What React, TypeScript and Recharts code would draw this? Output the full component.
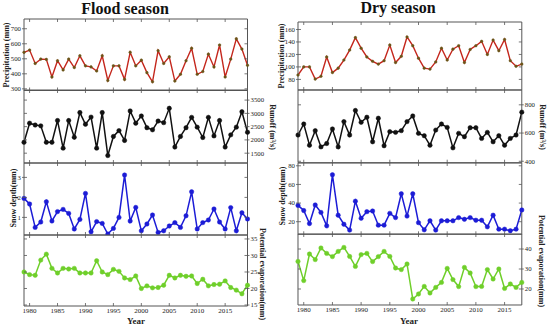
import { LineChart, Line, XAxis, YAxis } from "recharts";

const floodYears = [
  1979, 1980, 1981, 1982, 1983, 1984, 1985, 1986, 1987, 1988, 1989, 1990, 1991, 1992,
  1993, 1994, 1995, 1996, 1997, 1998, 1999, 2000, 2001, 2002, 2003, 2004, 2005, 2006,
  2007, 2008, 2009, 2010, 2011, 2012, 2013, 2014, 2015, 2016, 2017, 2018, 2019,
];
const dryYears = [
  1979, 1980, 1981, 1982, 1983, 1984, 1985, 1986, 1987, 1988, 1989, 1990, 1991, 1992,
  1993, 1994, 1995, 1996, 1997, 1998, 1999, 2000, 2001, 2002, 2003, 2004, 2005, 2006,
  2007, 2008, 2009, 2010, 2011, 2012, 2013, 2014, 2015, 2016, 2017, 2018,
];
const yearTicks = [1980, 1985, 1990, 1995, 2000, 2005, 2010, 2015];

// flood season
const floodPrecip = [
  543, 558, 469, 498, 496, 379, 487, 426, 498, 442, 520, 453, 446, 419, 520, 356, 453, 453,
  363, 543, 453, 491, 408, 347, 554, 469, 513, 352, 397, 487, 570, 397, 415, 531, 446, 592,
  379, 498, 633, 565, 457,
];
const floodRunoff = [
  1910, 2630, 2560, 2530, 1910, 1910, 2730, 1690, 2730, 2100, 3030, 2590, 2860, 1690, 3030,
  1410, 2130, 2350, 1980, 3090, 2630, 2900, 2460, 2380, 2710, 2650, 3190, 1730, 2130, 2460,
  2850, 2480, 2090, 2850, 2150, 2730, 1730, 2190, 2480, 3060, 2290,
];
const floodSnow = [
  1.95, 1.67, 0.5, 0.77, 1.78, 0.82, 1.29, 1.4, 1.2, 0.42, 0.9, 2.2, 0.28, 0.79, 0.7, 0.17,
  0.45, 1.0, 3.12, 0.82, 1.5, 0.33, 0.67, 1.12, 0.25, 0.33, 0.57, 0.74, 0.5, 1.08, 2.28, 0.42,
  0.74, 0.87, 1.42, 0.77, 0.42, 1.49, 0.33, 1.23, 0.92,
];
const floodEvap = [
  25.0, 24.2, 24.0, 28.6, 30.4, 26.1, 24.7, 26.1, 25.9, 26.1, 24.7, 24.7, 24.7, 28.4, 25.0,
  24.2, 25.8, 25.2, 23.2, 22.7, 23.8, 20.0, 20.8, 20.2, 20.3, 21.0, 24.0, 23.2, 24.0, 23.7,
  23.8, 21.5, 22.8, 20.8, 21.2, 21.3, 22.3, 20.3, 19.5, 18.4, 21.0,
];

// dry season
const dryPrecip = [
  87, 100, 100, 80.5, 85, 116, 91, 98, 111, 127, 147, 130, 116, 109, 104.5, 110, 135, 107,
  117, 148, 134, 114, 98, 96.5, 108, 130, 111, 128.5, 134, 107, 128, 134, 141, 120, 143, 126,
  144, 110, 101, 104.5,
];
const dryRunoff = [
  586, 664, 514, 617, 502, 526, 629, 502, 681, 586, 760, 676, 712, 538, 705, 510, 610, 605,
  617, 681, 721, 598, 581, 514, 621, 664, 640, 495, 598, 574, 638, 638, 562, 605, 538, 581,
  514, 562, 586, 748,
];
const drySnow = [
  37.5, 32, 18, 38, 30, 15.6, 70.4, 27, 17.3, 11, 42, 23.7, 30.8, 31.5, 16.3, 16.3, 29, 24.4,
  50, 26, 50, 19, 11.3, 21, 11, 21, 21, 21, 24.4, 22.6, 24.4, 21.6, 21.6, 14.5, 27, 12, 12,
  10.3, 12, 32.6,
];
const dryEvap = [
  33.8, 24.2, 37.5, 34.7, 40.5, 37.8, 36.2, 38.8, 40.8, 36.3, 31.3, 37.2, 37.8, 33.7, 36.2,
  38.8, 36.3, 30.5, 29.7, 32.5, 15, 17.5, 21.3, 18, 20.8, 23.3, 30.3, 24.7, 21.2, 30.8, 28,
  21.2, 21.3, 29.7, 25, 30, 20.3, 22.5, 20.8, 23.3,
];

const AX = "#555";
const FONT = "'Liberation Serif', 'Times New Roman', serif";

const rows = (years: number[], vals: number[]) => years.map((year, i) => ({ year, v: vals[i] }));

type PanelProps = {
  years: number[];
  values: number[];
  left: number;
  top: number;
  w: number;
  h: number;
  domain: [number, number];
  ticks: number[];
  side: "left" | "right";
  color: string;
  dotFill: string;
  dotR: number;
  lineW: number;
  showYears?: boolean;
};

function Panel(p: PanelProps) {
  const padX = 34;
  const padTop = 6;
  const padBottom = p.showYears ? 18 : 6;
  const xMax = p.years[p.years.length - 1];

  const yTick = (side: "left" | "right", labelled: boolean) => (props: any) => {
    const { x, y, payload } = props;
    const dir = side === "left" ? 1 : -1;
    return (
      <g>
        <line x1={x - (labelled ? dir * 2 : 0)} x2={x + dir * 3} y1={y} y2={y} stroke={AX} strokeWidth={0.8} />
        {labelled && (
          <text
            x={side === "left" ? x - 3 : x + 3}
            y={y}
            dy="0.35em"
            textAnchor={side === "left" ? "end" : "start"}
            fontSize={6.8}
            fontFamily={FONT}
            fill="#222"
          >
            {payload.value}
          </text>
        )}
      </g>
    );
  };

  const bottomTick = (props: any) => {
    const { x, y, payload } = props;
    return (
      <g>
        <line x1={x} x2={x} y1={y} y2={y - 3} stroke={AX} strokeWidth={0.8} />
        {p.showYears && (
          <text x={x} y={y + 7} textAnchor="middle" fontSize={7} fontFamily={FONT} fill="#222">
            {payload.value}
          </text>
        )}
      </g>
    );
  };
  const topTick = (props: any) => {
    const { x, y } = props;
    return <line x1={x} x2={x} y1={y} y2={y + 3} stroke={AX} strokeWidth={0.8} />;
  };

  return (
    <div style={{ position: "absolute", left: p.left - padX, top: p.top - padTop }}>
      <LineChart
        width={p.w + padX * 2}
        height={p.h + padTop + padBottom}
        data={rows(p.years, p.values)}
        margin={{ top: padTop - 1, bottom: padBottom - 1, left: 0, right: 0 }}
      >
        <XAxis
          xAxisId="b"
          dataKey="year"
          type="number"
          orientation="bottom"
          domain={[1979, xMax]}
          ticks={yearTicks}
          interval={0}
          height={1}
          tickSize={0}
          tickMargin={0}
          tickLine={false}
          axisLine={{ stroke: AX }}
          tick={bottomTick}
        />
        <XAxis
          xAxisId="t"
          dataKey="year"
          type="number"
          orientation="top"
          domain={[1979, xMax]}
          ticks={yearTicks}
          interval={0}
          height={1}
          tickSize={0}
          tickMargin={0}
          tickLine={false}
          axisLine={{ stroke: AX }}
          tick={topTick}
        />
        <YAxis
          yAxisId="l"
          orientation="left"
          width={padX}
          domain={p.domain}
          ticks={p.ticks}
          interval={0}
          allowDataOverflow
          tickSize={0}
          tickMargin={0}
          tickLine={false}
          axisLine={{ stroke: AX }}
          tick={yTick("left", p.side === "left")}
        />
        <YAxis
          yAxisId="r"
          orientation="right"
          width={padX}
          domain={p.domain}
          ticks={p.ticks}
          interval={0}
          allowDataOverflow
          tickSize={0}
          tickMargin={0}
          tickLine={false}
          axisLine={{ stroke: AX }}
          tick={yTick("right", p.side === "right")}
        />
        <Line
          xAxisId="t"
          yAxisId="r"
          dataKey="v"
          stroke="none"
          dot={false}
          activeDot={false}
          isAnimationActive={false}
        />
        <Line
          xAxisId="b"
          yAxisId="l"
          type="linear"
          dataKey="v"
          stroke={p.color}
          strokeWidth={p.lineW}
          dot={{ r: p.dotR, fill: p.dotFill, stroke: p.dotFill, strokeWidth: 0.5 }}
          activeDot={false}
          isAnimationActive={false}
        />
      </LineChart>
    </div>
  );
}

const RED = "#c4261c";
const RED_DOT = "#6a5418";
const BLACK = "#111";
const BLUE = "#1c1cd6";
const GREEN = "#6fcf2a";

function VLabel({ x, y, text, dir }: { x: number; y: number; text: string; dir: -1 | 1 }) {
  return (
    <text
      x={x}
      y={y}
      transform={`rotate(${dir * 90} ${x} ${y})`}
      textAnchor="middle"
      dominantBaseline="central"
      fontSize={8}
      fontWeight="bold"
      fontFamily={FONT}
      fill="#222"
    >
      {text}
    </text>
  );
}

export default function App() {
  const fx = 23.5;
  const fw = 223.5;
  const dx = 297.7;
  const dw = 223.8;
  return (
    <div style={{ position: "absolute", left: 0, top: 0, width: 550, height: 327, background: "#fff", overflow: "hidden" }}>
      <Panel years={floodYears} values={floodPrecip} left={fx} top={18.5} w={fw} h={71.5}
        domain={[289, 765]} ticks={[300, 400, 500, 600, 700]} side="left"
        color={RED} dotFill={RED_DOT} dotR={1.3} lineW={1.4} />
      <Panel years={floodYears} values={floodRunoff} left={fx} top={90} w={fw} h={73}
        domain={[1130, 3880]} ticks={[1500, 2000, 2500, 3000, 3500]} side="right"
        color={BLACK} dotFill={BLACK} dotR={2.2} lineW={1.5} />
      <Panel years={floodYears} values={floodSnow} left={fx} top={163} w={fw} h={72}
        domain={[0.12, 3.72]} ticks={[1, 2, 3]} side="left"
        color={BLUE} dotFill={BLUE} dotR={2.2} lineW={1.5} />
      <Panel years={floodYears} values={floodEvap} left={fx} top={235} w={fw} h={71}
        domain={[14.7, 36.2]} ticks={[15, 20, 25, 30, 35]} side="right"
        color={GREEN} dotFill={GREEN} dotR={2.2} lineW={1.5} showYears />

      <Panel years={dryYears} values={dryPrecip} left={dx} top={22} w={dw} h={68}
        domain={[63, 172]} ticks={[80, 100, 120, 140, 160]} side="left"
        color={RED} dotFill={RED_DOT} dotR={1.3} lineW={1.4} />
      <Panel years={dryYears} values={dryRunoff} left={dx} top={90} w={dw} h={72.7}
        domain={[390, 905]} ticks={[400, 600, 800]} side="right"
        color={BLACK} dotFill={BLACK} dotR={2.2} lineW={1.5} />
      <Panel years={dryYears} values={drySnow} left={dx} top={162.7} w={dw} h={71.3}
        domain={[6.5, 83]} ticks={[20, 40, 60, 80]} side="left"
        color={BLUE} dotFill={BLUE} dotR={2.2} lineW={1.5} />
      <Panel years={dryYears} values={dryEvap} left={dx} top={234} w={dw} h={71}
        domain={[12, 47.5]} ticks={[20, 30, 40]} side="right"
        color={GREEN} dotFill={GREEN} dotR={2.2} lineW={1.5} showYears />

      <svg width={550} height={327} style={{ position: "absolute", left: 0, top: 0, pointerEvents: "none" }}>
        <text x={125} y={13.5} textAnchor="middle" fontSize={16} fontWeight="bold" fontFamily={FONT} fill="#111">
          Flood season
        </text>
        <text x={398} y={12.5} textAnchor="middle" fontSize={16} fontWeight="bold" fontFamily={FONT} fill="#111">
          Dry season
        </text>
        <VLabel x={6} y={55} text="Precipitation (mm)" dir={-1} />
        <VLabel x={13} y={198} text="Snow depth(mm)" dir={-1} />
        <VLabel x={272} y={127} text="Runoff (m³/s)" dir={1} />
        <VLabel x={262} y={274} text="Potential evaporation(mm)" dir={1} />
        <VLabel x={281} y={56} text="Precipitation (mm)" dir={-1} />
        <VLabel x={282.5} y={196} text="Snow depth(mm)" dir={-1} />
        <VLabel x={542} y={127} text="Runoff (m³/s)" dir={1} />
        <VLabel x={541} y={261} text="Potential evaporation(mm)" dir={1} />
        <text x={136} y={324} textAnchor="middle" fontSize={9} fontWeight="bold" fontFamily={FONT} fill="#222">
          Year
        </text>
        <text x={409} y={324} textAnchor="middle" fontSize={9} fontWeight="bold" fontFamily={FONT} fill="#222">
          Year
        </text>
      </svg>
    </div>
  );
}
